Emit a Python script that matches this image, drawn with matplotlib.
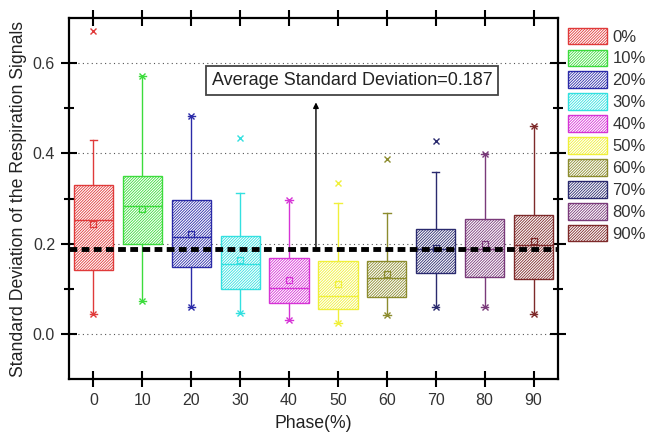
import matplotlib
matplotlib.use("Agg")
import matplotlib.pyplot as plt
from matplotlib.patches import Patch

plt.rcParams['font.family'] = ['Liberation Sans', 'DejaVu Sans']
plt.rcParams['hatch.linewidth'] = 0.6

phases = [0, 10, 20, 30, 40, 50, 60, 70, 80, 90]
labels = ['0%', '10%', '20%', '30%', '40%', '50%', '60%', '70%', '80%', '90%']
colors = ['#E03A3A', '#3CDC3C', '#2B2BA8', '#33E0E0', '#D633D6',
          '#F0F03A', '#8C8C2E', '#2A2A6E', '#7A3A7A', '#7E2A2A']

q1 = [0.142, 0.200, 0.148, 0.100, 0.068, 0.055, 0.081, 0.135, 0.126, 0.122]
med = [0.253, 0.283, 0.214, 0.155, 0.101, 0.083, 0.123, 0.188, 0.188, 0.197]
q3 = [0.331, 0.349, 0.296, 0.216, 0.169, 0.161, 0.161, 0.233, 0.254, 0.264]
mean = [0.244, 0.277, 0.222, 0.163, 0.119, 0.110, 0.132, 0.190, 0.200, 0.205]
whis_lo = [0.044, 0.073, 0.060, 0.046, 0.031, 0.024, 0.041, 0.060, 0.060, 0.044]
whis_hi = [0.429, 0.571, 0.483, 0.312, 0.297, 0.290, 0.268, 0.358, 0.399, 0.461]
xmark_hi = [0.671, 0.571, 0.483, 0.434, 0.297, 0.334, 0.387, 0.428, 0.399, 0.461]
xmark_lo = [0.044, 0.073, 0.060, 0.046, 0.031, 0.024, 0.041, 0.060, 0.060, 0.044]

avg_sd = 0.187
annot_text = 'Average Standard Deviation=0.187'

HATCH = '/' * 12

fig = plt.figure(figsize=(6.46, 4.33), dpi=100)
ax = fig.add_axes([0.1068, 0.1247, 0.7570, 0.9584 - 0.1247])

for i, p in enumerate(phases):
    c = colors[i]
    st = [dict(med=med[i], q1=q1[i], q3=q3[i], whislo=whis_lo[i], whishi=whis_hi[i],
               mean=mean[i], fliers=[xmark_lo[i], xmark_hi[i]])]
    ax.bxp(st, positions=[p], widths=8, patch_artist=True, showmeans=True,
           capwidths=1.5,
           boxprops=dict(facecolor='white', edgecolor=c, hatch=HATCH, linewidth=1.0),
           medianprops=dict(color=c, linewidth=1.0),
           whiskerprops=dict(color=c, linewidth=1.0),
           capprops=dict(color=c, linewidth=1.0),
           meanprops=dict(marker='s', markerfacecolor='none', markeredgecolor=c,
                          markersize=4, markeredgewidth=0.9),
           flierprops=dict(marker='x', markeredgecolor=c, markersize=4,
                           markeredgewidth=1.0, linestyle='none'),
           zorder=3)

ax.axhline(avg_sd, color='black', linestyle=(0, (1.6, 0.9)), linewidth=3.5, zorder=5)

ax.annotate('', xy=(45.5, 0.513), xytext=(45.5, avg_sd),
            arrowprops=dict(arrowstyle='-|>', color='black', lw=1.0,
                            mutation_scale=8, shrinkA=0, shrinkB=0), zorder=6)
ax.text(52.9, 0.562, annot_text, ha='center', va='center', fontsize=13,
        color='#222222',
        bbox=dict(boxstyle='square,pad=0.33', facecolor='white',
                  edgecolor='#444444', linewidth=1.3), zorder=7)

ax.set_xlim(-5, 95)
ax.set_ylim(-0.1, 0.7)
ax.set_xticks(phases)
ax.set_xticklabels([str(p) for p in phases])
ax.set_yticks([0.0, 0.2, 0.4, 0.6])
ax.set_yticklabels(['0.0', '0.2', '0.4', '0.6'])
ax.set_yticks([0.1, 0.3, 0.5], minor=True)
ax.yaxis.grid(True, which='major', linestyle=(0, (1, 3)), color='#555555', linewidth=0.8)
ax.set_axisbelow(True)

ax.tick_params(axis='both', which='major', direction='inout', length=12, width=1.5,
               labelsize=11.5, colors='black', labelcolor='#333333',
               top=True, right=True, pad=4)
ax.tick_params(axis='y', which='minor', direction='inout', length=7, width=1.5,
               right=True)
for s in ax.spines.values():
    s.set_linewidth(1.6)

ax.set_xlabel('Phase(%)', fontsize=12.7, labelpad=5, color='#222222')
ax.set_ylabel('Standard Deviation of the Respiration Signals', fontsize=12.7,
              labelpad=4, color='#222222')

handles = [Patch(facecolor='white', edgecolor=c, hatch=HATCH, linewidth=1.0)
           for c in colors]
fig.legend(handles, labels, loc='upper left', bbox_to_anchor=(0.876, 0.94),
           frameon=False, fontsize=12, handlelength=2.35, handleheight=1.15,
           labelspacing=0.3, handletextpad=0.35, borderpad=0.1, borderaxespad=0,
           labelcolor='#333333')

fig.savefig('out.png', dpi=100, facecolor='white')
